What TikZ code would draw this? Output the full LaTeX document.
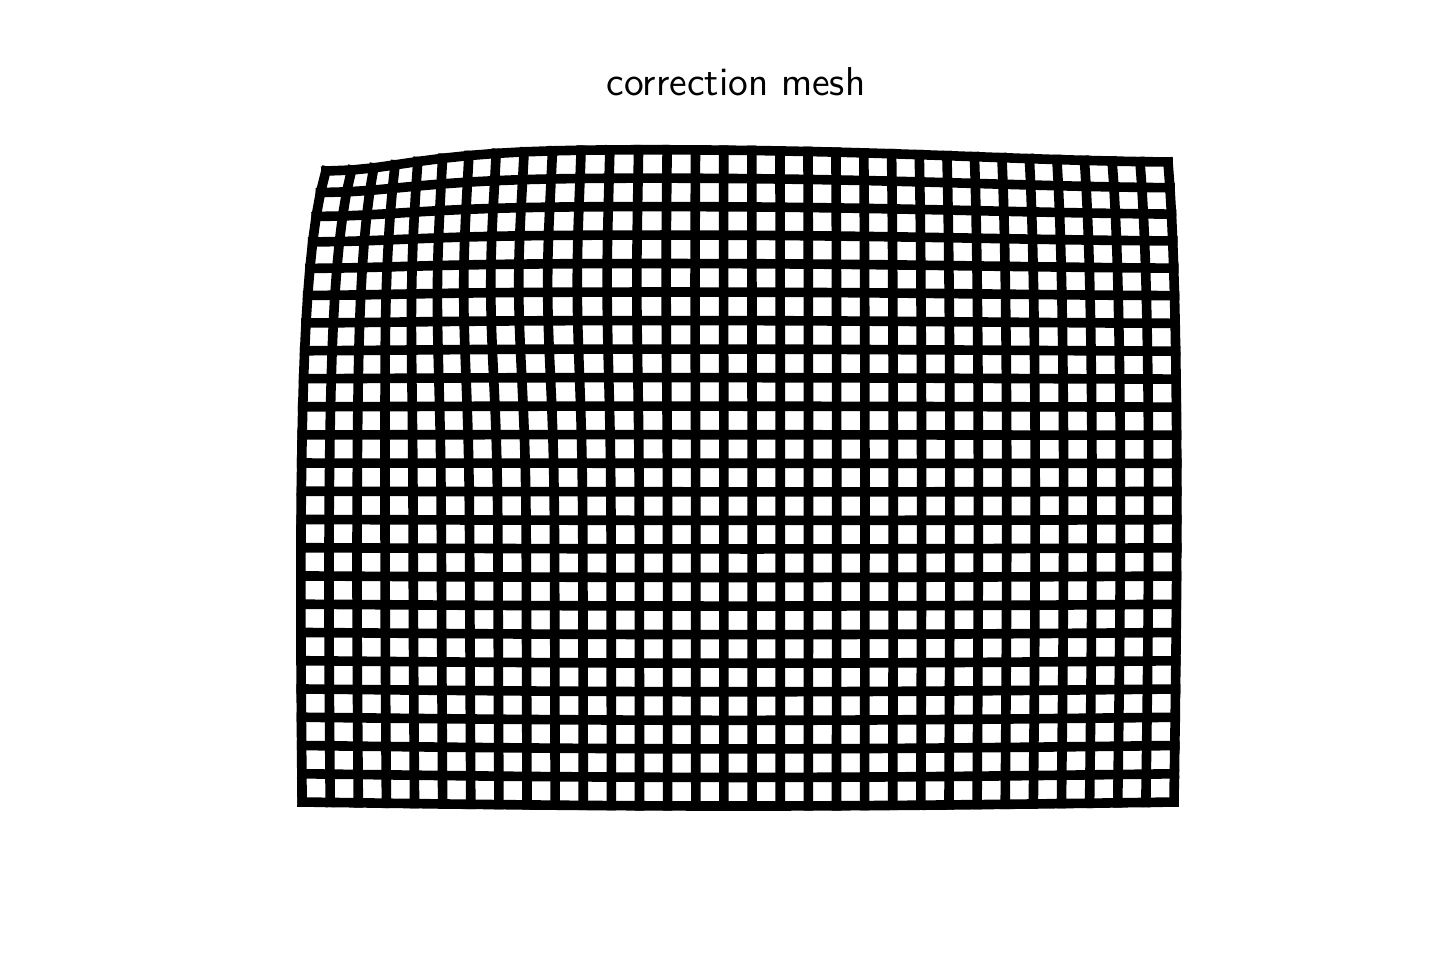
\documentclass[tikz,border=0pt]{standalone}
\usepackage{tikz}
\begin{document}
\begin{tikzpicture}[x=0.01cm,y=-0.01cm,
  meshline/.style={line width=0.096cm,line cap=rect,line join=miter,black},
  titletext/.style={font=\sffamily\fontsize{11.45}{14}\selectfont,anchor=base,inner sep=0pt},
  declare function={
    gx(\u,\v)= 302 + 872*\u
      + 24*exp(max(-15, -\u*\u/0.01 - \v/0.18))
      - 8*exp(max(-15, -(\u-0.25)*(\u-0.25)/0.0169 - (\v-0.2)*(\v-0.2)/0.04))
      + exp(max(-15, -(1-\u)*(1-\u)/0.0625))*(3*sin(180*\v) - 6*exp(-\v/0.15))
      - 2*sin(180*\v)*exp(max(-15, -\u*\u/0.0625));
    gy(\u,\v)= 152 + 650*\v
      + 19*exp(max(-15, -\u*\u/0.0289 - \v/0.1))
      + 10*exp(max(-15, -(1-\u)*(1-\u)/0.1225 - \v/0.15))
      + sin(180*\u)*(7*\v - 3);
  }]
\useasboundingbox[fill=white] (0,0) rectangle (1440,960);
\node[titletext] (title) at (736,95) {correction mesh};
\foreach \i in {0,...,31}{
  \foreach \j in {0,...,23}{
    \pgfmathsetmacro\X{gx(\i/31,\j/23)}
    \pgfmathsetmacro\Y{gy(\i/31,\j/23)}
    \coordinate (v\i-\j) at (\X,\Y);
  }
}
\foreach \j in {0,...,23}{
  \draw[meshline] (v0-\j) \foreach \i in {1,...,31}{ -- (v\i-\j) };
}
\foreach \i in {0,...,31}{
  \draw[meshline] (v\i-0) \foreach \j in {1,...,23}{ -- (v\i-\j) };
}
\end{tikzpicture}
\end{document}
